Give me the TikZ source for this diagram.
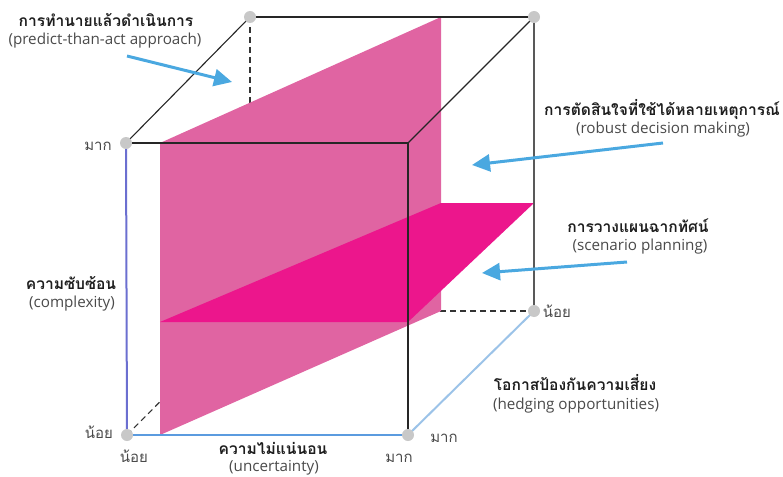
\documentclass[tikz,border=0pt]{standalone}
\usepackage{fontspec}
\setmainfont{Open Sans}
\newfontfamily\thai[Script=Thai]{Loma}
\usetikzlibrary{arrows.meta}
\definecolor{pinkA}{HTML}{E064A2}
\definecolor{pinkB}{HTML}{EC168C}
\definecolor{arrowblue}{HTML}{4AA8E0}
\definecolor{edgeV}{HTML}{6B6FD0}
\definecolor{edgeH}{HTML}{5B9BDF}
\definecolor{edgeD}{HTML}{9CC3E8}
\definecolor{dotgray}{HTML}{C8C8C8}
\definecolor{txt}{HTML}{1E1E1E}
\definecolor{subtxt}{HTML}{4A4A4A}
\begin{document}
\begin{tikzpicture}[x=1pt,y=-1pt,
  edge/.style={draw=black!85, line width=1.1pt},
  backedge/.style={draw=black!65, line width=1.1pt},
  hidden/.style={draw=black!80, line width=1.1pt, dash pattern=on 6pt off 4pt},
  vdot/.style={circle, fill=dotgray, inner sep=0pt, minimum size=12pt},
  callout/.style={draw=arrowblue, line width=3pt, -{Triangle[length=18pt,width=17pt]}},
  ttl/.style={anchor=base, font=\thai\bfseries\fontsize{15.6}{18}\selectfont, text=txt, inner sep=0pt},
  sub/.style={anchor=base, font=\fontsize{15.2}{18}\selectfont, text=subtxt, inner sep=0pt},
  tick/.style={anchor=base, font=\thai\fontsize{15}{18}\selectfont, text=subtxt, inner sep=0pt}]
\useasboundingbox (0,0) rectangle (783,476);
% cube corners
\coordinate (FTL) at (126,143);
\coordinate (FTR) at (408,143);
\coordinate (FBL) at (127,435);
\coordinate (FBR) at (408,435);
\coordinate (BTL) at (250,17);
\coordinate (BTR) at (534,17);
\coordinate (BBL) at (250,311);
\coordinate (BBR) at (534,311);
% hidden edges
\draw[hidden] (BTL) -- (BBL);
\draw[hidden] (BBL) -- (BBR);
\draw[hidden] (FBL) -- (BBL);
% planes
\fill[pinkA] (160,143) -- (441,17) -- (441,311) -- (160,435) -- cycle;
\fill[pinkB] (160,322) -- (408,322) -- (534,203) -- (441,203) -- cycle;
% visible edges
\draw[edge] (BTL) -- (BTR);
\draw[edge] (FTL) -- (FTR);
\draw[edge] (FTL) -- (BTL);
\draw[edge] (FTR) -- (BTR);
\draw[edge] (FTR) -- (FBR);
\draw[backedge] (BTR) -- (BBR);
\draw[draw=edgeV, line width=2pt] (FTL) -- (FBL);
\draw[draw=edgeH, line width=2.5pt] (FBL) -- (FBR);
\draw[draw=edgeD, line width=2pt] (FBR) -- (BBR);
% dots
\node[vdot] (dBTL) at (BTL) {};
\node[vdot] (dBTR) at (BTR) {};
\node[vdot] (dFTL) at (FTL) {};
\node[vdot] (dFBL) at (FBL) {};
\node[vdot] (dFBR) at (FBR) {};
\node[vdot] (dBBR) at (BBR) {};
% callout arrows
\coordinate (a1s) at (127,56);  \coordinate (a1e) at (232,82);
\coordinate (a2s) at (663,143); \coordinate (a2e) at (472,165);
\coordinate (a3s) at (627,262); \coordinate (a3e) at (482,273);
\draw[callout] (a1s) -- (a1e);
\draw[callout] (a2s) -- (a2e);
\draw[callout] (a3s) -- (a3e);
% labels
\node[ttl] (t1) at (106,27) {การทำนายแล้วดำเนินการ};
\node[sub] (s1) at (105,45) {(predict-than-act approach)};
\node[ttl] (t2) at (662,115) {การตัดสินใจที่ใช้ได้หลายเหตุการณ์};
\node[sub] (s2) at (663,133) {(robust decision making)};
\node[ttl] (t3) at (638,232) {การวางแผนฉากทัศน์};
\node[sub] (s3) at (640,250) {(scenario planning)};
\node[ttl] (t4) at (71,289) {ความซับซ้อน};
\node[sub] (s4) at (72,307) {(complexity)};
\node[ttl] (t5) at (273,454) {ความไม่แน่นอน};
\node[sub] (s5) at (274,471) {(uncertainty)};
\node[ttl] (t6) at (575,390) {โอกาสป้องกันความเสี่ยง};
\node[sub] (s6) at (576,409) {(hedging opportunities)};
% axis ticks
\node[tick] (k1) at (98,150) {มาก};
\node[tick] (k2) at (99,438) {น้อย};
\node[tick] (k3) at (134,462) {น้อย};
\node[tick] (k4) at (399,462) {มาก};
\node[tick] (k5) at (444,442) {มาก};
\node[tick] (k6) at (557,317) {น้อย};
\end{tikzpicture}
\end{document}
